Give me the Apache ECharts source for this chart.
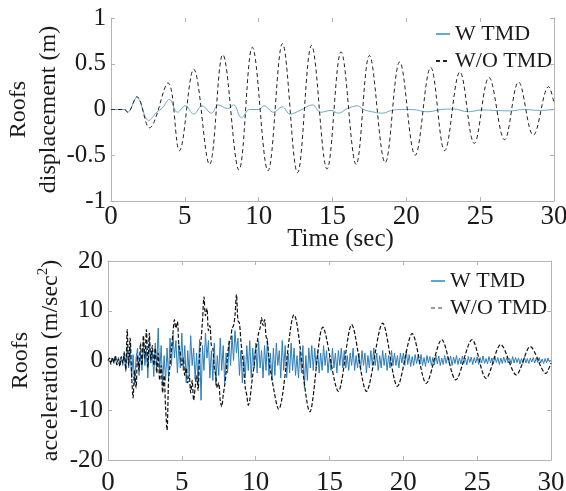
<!DOCTYPE html>
<html>
<head>
<meta charset="utf-8">
<script src="https://cdn.jsdelivr.net/npm/echarts@6/dist/echarts.min.js"></script>
<style>
html, body { margin: 0; padding: 0; background: #fff; }
#chart { width: 566px; height: 491px; }
</style>
</head>
<body>
<div id="chart"></div>
<script>
// axis ranges [min, max, interval]
var timeRange = [0, 30, 5];
var dispRange = [-1, 1, 0.5];
var accRange = [-20, 20, 10];

// top plot, roof displacement (m): peaks / troughs
var dispWoTime = [0, 0.9, 1.13, 1.75, 2.6, 3.86, 4.63, 5.6, 6.67, 7.57, 8.66, 9.57, 10.63, 11.61, 12.63, 13.58, 14.63, 15.58, 16.6, 17.5, 18.57, 19.55, 20.6, 21.65, 22.6, 23.63, 24.6, 25.6, 26.65, 27.6, 28.6, 29.64, 30];
var dispWo = [0, 0, -0.03, 0.14, -0.2, 0.29, -0.45, 0.44, -0.6, 0.6, -0.66, 0.68, -0.67, 0.72, -0.69, 0.7, -0.65, 0.63, -0.6, 0.59, -0.58, 0.52, -0.5, 0.46, -0.45, 0.41, -0.37, 0.35, -0.33, 0.3, -0.28, 0.25, 0.07];

var dispWTime = [0, 0.95, 1.13, 1.75, 2.55, 3.1, 3.5, 3.95, 4.5, 5.03, 5.6, 6.17, 6.8, 7.26, 7.9, 8.3, 8.84, 9.4, 10.0, 10.36, 11.0, 11.6, 12.13, 12.8, 13.65, 14.2, 14.9, 15.4, 16.0, 16.7, 17.1, 17.84, 18.4, 19.0, 19.7, 20.4, 21.4, 22.4, 23.2, 24.2, 25.1, 26.0, 27.0, 28.0, 29.0, 30];
var dispW = [0, 0, -0.03, 0.13, -0.12, -0.03, 0.02, 0.11, -0.03, 0.04, -0.05, 0.04, -0.04, 0.05, 0.01, 0.05, -0.09, 0, 0, 0.04, -0.03, 0.03, -0.05, -0.01, 0.05, -0.03, -0.01, -0.04, 0.01, 0.04, 0, -0.03, -0.04, -0.01, 0, 0, -0.025, 0, 0.005, -0.025, -0.005, -0.01, -0.015, 0, -0.01, 0];

// bottom plot, roof acceleration (m/sec^2)
var accStep = 0.1;
// W TMD, one value every accStep from 0 s (one row per second)
var accW = [
  0, 0.3, -0.4, 0.5, -0.6, 0.4, -0.8, 0.6, -0.3, 0.7,
  -1.0, 1.8, -2.2, 2.8, -1.5, 3.0, -3.5, 1.2, -4.8, 0.5,
  2.5, -3.0, 1.5, -2.0, 3.8, -1.0, 2.2, -3.5, 4.0, -0.5,
  2.0, -3.2, 3.5, -1.5, 6.5, -2.5, 3.0, -4.8, 1.0, -4.0,
  2.5, -3.5, 4.5, -1.0, 5.2, 0.5, 4.0, -2.5, 3.2, -1.5,
  5.5, -2.0, 3.0, -4.5, 2.0, -3.0, 5.0, -1.0, 2.5, -3.8,
  1.5, -5.0, 4.2, -8.0, 3.0, -2.0, 5.5, 0.5, 4.0, -3.5,
  2.0, -4.0, 3.5, -5.0, 1.0, -3.0, 4.5, -2.0, 3.0, -4.5,
  1.5, -2.5, 4.0, -1.0, 5.0, 0, 6.0, 1.5, 4.5, -3.0,
  2.0, -4.5, 1.0, -3.5, 3.0, -2.0, 4.0, -3.5, 2.5, -1.5,
  3.5, -2.5, 4.0, -1.5, 2.0, -3.5, 3.0, -2.0, 4.5, -3.0,
  1.5, -4.0, 2.5, -3.0, 3.5, -1.0, 2.0, -3.5, 4.0, -2.0,
  3.0, -3.5, 1.5, -2.5, 3.5, -2.0, 2.5, -3.0, 1.0, -3.5,
  2.0, -2.5, 3.0, -5.5, 1.0, -4.0, 2.5, -1.5, 3.0, -2.0,
  2.5, -1.5, 2.0, -2.5, 1.5, -2.0, 3.0, -1.0, 2.0, -2.5,
  1.0, -2.0, 2.5, -1.5, 1.5, -2.5, 2.0, -1.0, 2.5, -1.5,
  2.0, -1.5, 1.0, -2.0, 1.5, -1.0, 2.5, -2.0, 1.0, -1.5,
  1.5, -2.0, 2.0, -1.0, 1.5, -2.5, 1.0, -1.5, 2.0, -1.0,
  2.5, -1.0, 1.5, -2.0, 1.0, -1.5, 2.0, -1.0, 1.5, -2.0,
  1.0, -1.5, 2.0, -1.0, 1.5, -1.0, 1.0, -1.5, 1.5, -0.5,
  1.5, -1.0, 2.0, -0.8, 1.2, -1.2, 0.8, -1.0, 1.2, -0.6,
  1.0, -0.8, 1.2, -1.0, 0.6, -1.2, 1.0, -0.5, 0.8, -1.0,
  0.6, -0.9, 1.1, -0.7, 0.9, -1.0, 0.5, -0.8, 1.0, -0.6,
  0.8, -0.5, 0.9, -1.0, 0.7, -0.6, 1.0, -0.8, 0.5, -0.7,
  0.9, -0.6, 0.5, -0.9, 0.8, -0.4, 0.7, -0.8, 0.6, -0.5,
  0.7, -0.8, 0.6, -0.5, 0.9, -0.6, 0.4, -0.7, 0.8, -0.5,
  0.5, -0.7, 0.8, -0.4, 0.6, -0.8, 0.5, -0.6, 0.7, -0.4,
  0.6, -0.5, 0.4, -0.7, 0.8, -0.5, 0.6, -0.4, 0.5, -0.7,
  0.4, -0.6, 0.7, -0.5, 0.4, -0.6, 0.5, -0.3, 0.6, -0.5,
  0.5, -0.4, 0.6, -0.5, 0.3, -0.6, 0.4, -0.5, 0.5, -0.3,
  0
];
// W/O TMD, noisy start every accStep from 0 s up to 11 s
var accWoEarly = [
  0, 0.5, -0.8, 0.6, -0.4, 1.0, -0.9, 0.3, -1.2, 0.8,
  -0.5, 1.5, -1.8, 6.2, -1.0, 4.5, -3.0, -7.5, -2.0, -5.5,
  1.0, -2.0, 3.5, -1.0, 5.0, 0.5, 6.2, -1.5, 5.5, 0,
  3.0, -1.0, 2.5, -2.5, 1.5, -4.0, -1.0, -6.5, -3.0, -9.5,
  -14.0, -4.0, -1.0, 2.5, 5.5, 8.2, 6.5, 7.8, 3.0, 1.5,
  -1.0, 0.5, -3.0, -1.5, -4.5, -3.0, -6.5, -4.0, -8.0, -5.5,
  -3.0, -6.0, 1.0, 4.0, 8.0, 12.8, 9.0, 10.5, 6.0, 7.0,
  3.0, 2.5, -1.5, -3.0, -5.5, -4.5, -8.0, -9.3, -7.0, -5.0,
  -2.5, 1.0, 3.5, 4.0, 6.5, 7.0, 9.0, 13.3, 8.0, 7.5,
  4.0, 1.0, -2.0, -5.5, -7.0, -9.0, -8.0, -5.5, -3.0, -1.0,
  2.0, 3.5, 5.5, 6.5, 8.6, 7.0, 8.2, 5.0, 3.5, 0.5,
  -2.0
];
// W/O TMD after 11 s: peaks / troughs
var accWoLateTime = [11.56, 12.6, 13.67, 14.55, 15.6, 16.5, 17.5, 18.6, 19.6, 20.6, 21.55, 22.6, 23.55, 24.65, 25.6, 26.6, 27.65, 28.6, 29.65, 30];
var accWoLate = [-9.8, 9.2, -10.3, 6.7, -6.2, 7.2, -6.2, 7.5, -5.2, 5.4, -4.6, 4.2, -3.9, 4.2, -3.6, 3.2, -2.9, 2.8, -2.6, -0.5];

function pairs(ts, vs) {
  return ts.map(function (t, i) { return [t, vs[i]]; });
}
function stepPairs(vs) {
  return vs.map(function (v, i) { return [+(i * accStep).toFixed(2), v]; });
}

var serif = 'Liberation Serif';
var boxColor = '#b4b4b4';
var textColor = '#1a1a1a';

function xAxisOf(grid, pos, labels, margin) {
  return {
    type: 'value', gridIndex: grid, position: pos,
    min: timeRange[0], max: timeRange[1], interval: timeRange[2],
    axisLine: { show: true, onZero: false, lineStyle: { color: boxColor } },
    axisTick: { show: true, inside: true, length: 4, lineStyle: { color: boxColor } },
    axisLabel: { show: labels, margin: margin, color: textColor, fontFamily: serif, fontSize: 27 },
    splitLine: { show: false }
  };
}
function yAxisOf(grid, pos, range, labels) {
  return {
    type: 'value', gridIndex: grid, position: pos,
    min: range[0], max: range[1], interval: range[2],
    axisLine: { show: true, onZero: false, lineStyle: { color: boxColor } },
    axisTick: { show: true, inside: true, length: 4, lineStyle: { color: boxColor } },
    axisLabel: { show: labels, margin: 5, color: textColor, fontFamily: serif, fontSize: 25 },
    splitLine: { show: false }
  };
}

var xTopBottom = xAxisOf(0, 'bottom', true, 2);
xTopBottom.name = 'Time (sec)';
xTopBottom.nameLocation = 'middle';
xTopBottom.nameGap = 26;
xTopBottom.nameMoveOverlap = false;
xTopBottom.nameTextStyle = { color: textColor, fontFamily: serif, fontSize: 25, padding: [0, 0, 0, 16] };
var xTopTop = xAxisOf(0, 'top', false, 0);
xTopTop.axisLine.show = false;

var yTopLeft = yAxisOf(0, 'left', dispRange, true);
yTopLeft.name = 'Roofs\ndisplacement (m)';
yTopLeft.nameLocation = 'middle';
yTopLeft.nameGap = 47;
yTopLeft.nameMoveOverlap = false;
yTopLeft.nameTextStyle = { color: textColor, fontFamily: serif, fontSize: 24, lineHeight: 30 };

var yBotLeft = yAxisOf(1, 'left', accRange, true);
yBotLeft.name = 'Roofs\n{t|acceleration (m/sec}{s|2}{t|)}';
yBotLeft.nameLocation = 'middle';
yBotLeft.nameGap = 42;
yBotLeft.nameMoveOverlap = false;
yBotLeft.nameTextStyle = {
  color: textColor, fontFamily: serif, fontSize: 24, lineHeight: 30,
  rich: {
    t: { color: textColor, fontFamily: serif, fontSize: 24, lineHeight: 30 },
    s: { color: textColor, fontFamily: serif, fontSize: 15, verticalAlign: 'top' }
  }
};

var legendText = { color: textColor, fontFamily: serif, fontSize: 22, lineHeight: 22 };

var option = {
  animation: false,
  backgroundColor: '#fff',
  grid: [
    { left: 111, top: 18, width: 443, height: 183, outerBoundsMode: 'none', containLabel: false },
    { left: 108, top: 261, width: 443, height: 199, outerBoundsMode: 'none', containLabel: false }
  ],
  legend: [
    {
      orient: 'vertical', left: 430, top: 18, itemGap: 5, itemWidth: 14, itemHeight: 10,
      itemStyle: { opacity: 0 },
      textStyle: legendText,
      data: ['W TMD', 'W/O TMD']
    },
    {
      orient: 'vertical', left: 425, top: 265, itemGap: 5, itemWidth: 14, itemHeight: 10,
      itemStyle: { opacity: 0 },
      textStyle: legendText,
      data: [
        { name: 'W TMD', lineStyle: { color: '#5fa6cf' } },
        { name: 'W/O TMD', lineStyle: { color: '#9a9a9a' } }
      ]
    }
  ],
  xAxis: [xTopBottom, xTopTop, xAxisOf(1, 'bottom', true, 9), xAxisOf(1, 'top', false, 0)],
  yAxis: [yTopLeft, yAxisOf(0, 'right', dispRange, false), yBotLeft, yAxisOf(1, 'right', accRange, false)],
  series: [
    {
      name: 'W TMD', type: 'line', xAxisIndex: 0, yAxisIndex: 0,
      data: pairs(dispWTime, dispW), smooth: 0.4, symbol: 'none',
      lineStyle: { color: '#6aa9cc', width: 1 }, itemStyle: { color: '#6aa9cc' }
    },
    {
      name: 'W/O TMD', type: 'line', xAxisIndex: 0, yAxisIndex: 0,
      data: pairs(dispWoTime, dispWo), smooth: 0.38, symbol: 'none',
      lineStyle: { color: '#222', width: 1, type: [4, 3] }, itemStyle: { color: '#222' }
    },
    {
      name: 'W TMD', type: 'line', xAxisIndex: 2, yAxisIndex: 2,
      data: stepPairs(accW), symbol: 'none',
      lineStyle: { color: '#2b7dbb', width: 1 }, itemStyle: { color: '#2b7dbb' }
    },
    {
      name: 'W/O TMD', type: 'line', xAxisIndex: 2, yAxisIndex: 2,
      data: stepPairs(accWoEarly).concat(pairs(accWoLateTime, accWoLate)), smooth: 0.3, symbol: 'none',
      lineStyle: { color: '#111', width: 1.2, type: [4, 2] }, itemStyle: { color: '#111' }
    }
  ]
};

var chart = echarts.init(document.getElementById('chart'));
chart.setOption(option);
</script>
</body>
</html>
